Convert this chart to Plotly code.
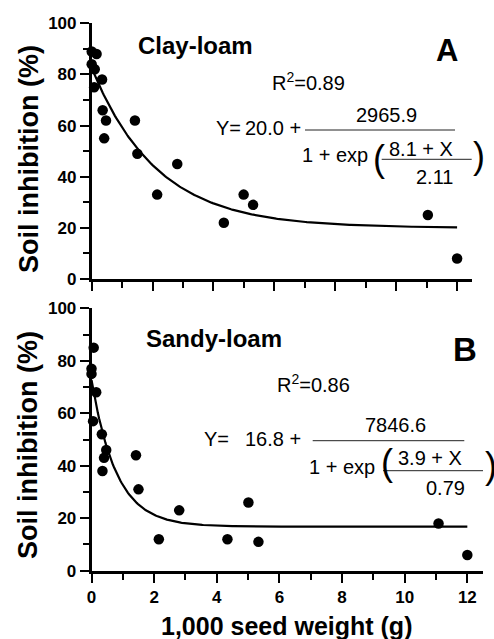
import numpy as np
import plotly.graph_objects as go

W, H = 494, 639

# ---- data ----
clay_x = [0, 0.16, 0, 0.10, 0.08, 0.34, 0.36, 0.47, 0.41, 1.42, 1.50, 2.15, 2.81, 4.34, 4.99, 5.30, 11.04, 12.0]
clay_y = [89, 88, 84, 82, 75, 78, 66, 62, 55, 62, 49, 33, 45, 22, 33, 29, 25, 8]

sandy_x = [0, 0, 0.07, 0.15, 0.05, 0.33, 0.47, 0.40, 0.35, 1.42, 1.50, 2.15, 2.80, 4.34, 5.01, 5.33, 11.08, 12.0]
sandy_y = [77, 75, 85, 68, 57, 52, 46, 43, 38, 44, 31, 12, 23, 12, 26, 11, 18, 6]

# fitted equation parameters: Y = base + span / (1 + exp((shift + X)/slope))
clay_fit = [20.0, 2965.9, 8.1, 2.11]
sandy_fit = [16.8, 7846.6, 3.9, 0.79]
fit_x_max = 12

x_ticks = [0, 2, 4, 6, 8, 10, 12]
y_ticks = [0, 20, 40, 60, 80, 100]

FONT = "Liberation Sans, Arial, sans-serif"


def curve(p, x):
    base, span, shift, slope = p
    return base + span / (1 + np.exp((shift + x) / slope))


xs = np.linspace(0, fit_x_max, 300)

fig = go.Figure()
for xa, ya, px_, py_, p in [("x", "y", clay_x, clay_y, clay_fit),
                            ("x2", "y2", sandy_x, sandy_y, sandy_fit)]:
    fig.add_trace(go.Scatter(x=xs, y=curve(p, xs), mode="lines",
                             line=dict(color="black", width=2.2),
                             xaxis=xa, yaxis=ya, showlegend=False,
                             hoverinfo="skip", cliponaxis=False))
    fig.add_trace(go.Scatter(x=px_, y=py_, mode="markers",
                             marker=dict(color="black", size=10.5),
                             xaxis=xa, yaxis=ya, showlegend=False,
                             cliponaxis=False))


def fx(px):
    return px / W


def fy(py):
    return 1 - py / H


axis_common = dict(showline=True, linecolor="black", linewidth=2.6,
                   ticks="outside", ticklen=9, tickwidth=2.4, tickcolor="black",
                   showgrid=False, zeroline=False, mirror=False, automargin=False,
                   tickfont=dict(family=FONT, size=17, color="black", weight="bold"))

minor_x = dict(dtick=1, tick0=0, ticks="outside", ticklen=6, tickwidth=2.4, tickcolor="black")
minor_y = dict(dtick=10, tick0=0, ticks="outside", ticklen=6, tickwidth=2.4, tickcolor="black")

fig.update_layout(
    width=W, height=H,
    margin=dict(l=0, r=0, t=0, b=0, pad=0, autoexpand=False),
    paper_bgcolor="white", plot_bgcolor="white",
    xaxis=dict(domain=[fx(91.7), fx(472.3)], range=[0, 12.5], anchor="y",
               tickvals=x_ticks, showticklabels=False, minor=minor_x, **axis_common),
    yaxis=dict(domain=[fy(279), fy(23.3)], range=[0, 100], anchor="x",
               tickvals=y_ticks, ticklabelstandoff=0, minor=minor_y, **axis_common),
    xaxis2=dict(domain=[fx(91.5), fx(483)], range=[0, 12.5], anchor="y2",
                tickvals=x_ticks, minor=minor_x, **axis_common),
    yaxis2=dict(domain=[fy(570.7), fy(308.3)], range=[0, 100], anchor="x2",
                tickvals=y_ticks, ticklabelstandoff=0, minor=minor_y, **axis_common),
)

ann = []


def text(t, x, y, size, bold=False, xanchor="left", angle=0):
    ann.append(dict(text=t, x=fx(x), y=fy(y), xref="paper", yref="paper",
                    xanchor=xanchor, yanchor="middle", showarrow=False,
                    textangle=angle, borderpad=0,
                    font=dict(family=FONT, size=size, color="black",
                              weight="bold" if bold else "normal")))


shapes = []


def hline(x0, x1, y):
    shapes.append(dict(type="line", xref="paper", yref="paper",
                       x0=fx(x0), x1=fx(x1), y0=fy(y), y1=fy(y),
                       line=dict(color="#222", width=1)))


# axis titles
text("Soil inhibition (%)", 29, 159, 27, bold=True, xanchor="center", angle=-90)
text("Soil inhibition (%)", 28, 445, 27, bold=True, xanchor="center", angle=-90)
text("1,000 seed weight (g)", 286.7, 626, 25, bold=True, xanchor="center")

# panel A
text("Clay-loam", 137, 45, 24, bold=True)
text("A", 435, 50, 31, bold=True)
text("R<sup>2</sup>=0.89", 271, 81, 20)
text("Y=", 215, 128, 20)
text("20.0 +", 244, 128, 20)
text("2965.9", 386.7, 115, 20, xanchor="center")
hline(305, 455, 130)
text("1 + exp", 301, 155, 20)
text("(", 372, 158, 36)
text("8.1 + X", 388, 149, 20)
hline(381.7, 471.7, 159.3)
text("2.11", 414.5, 177, 20)
text(")", 472, 156, 36)

# panel B
text("Sandy-loam", 145, 338, 24, bold=True)
text("B", 451.5, 349, 33, bold=True)
text("R<sup>2</sup>=0.86", 276, 383, 20)
text("Y=", 203, 439, 20)
text("16.8 +", 244, 439, 20)
text("7846.6", 395.8, 425, 20, xanchor="center")
hline(312.7, 464.3, 440.7)
text("1 + exp", 308, 467, 20)
text("(", 380, 462, 36)
text("3.9 + X", 396.5, 457.5, 20)
hline(383, 483, 470.7)
text("0.79", 424.5, 488, 20)
text(")", 484, 465, 36)

fig.update_layout(annotations=ann, shapes=shapes)

fig.write_html("out.html", config={"displayModeBar": False},
               post_script="document.body.style.margin='0';document.body.style.overflow='hidden';")
